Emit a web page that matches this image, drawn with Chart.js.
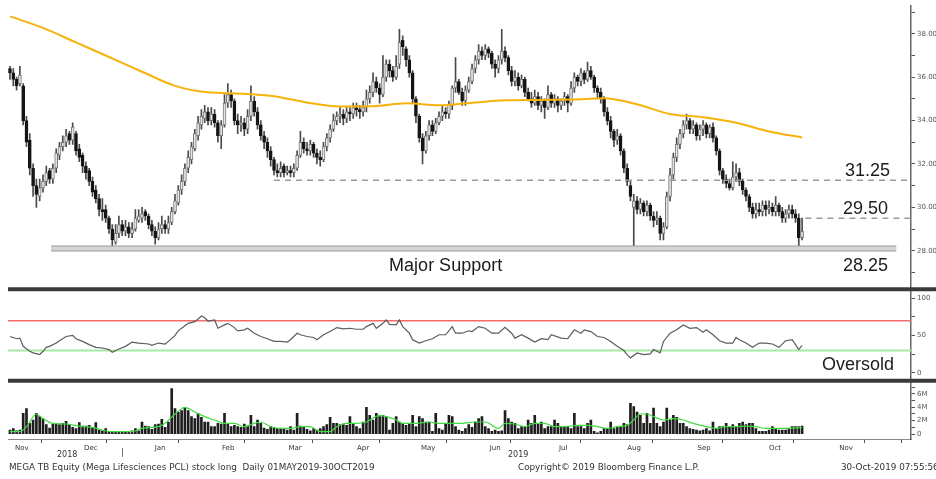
<!DOCTYPE html>
<html>
<head>
<meta charset="utf-8">
<script src="https://cdn.jsdelivr.net/npm/chart.js@4.4.1/dist/chart.umd.min.js"></script>
<style>
  body { margin: 0; background: #fff; }
  #wrap { position: relative; width: 936px; height: 479px; overflow: hidden; }
  .ft { position: absolute; font: 8.8px "DejaVu Sans", Verdana, sans-serif; color: #333; white-space: nowrap; }
  .yr { font-size: 8px; }
</style>
</head>
<body>
<div id="wrap">
  <canvas id="chart" width="936" height="479"></canvas>
  <div class="ft yr" style="left:57px;top:450px">2018</div>
  <div class="ft yr" style="left:121px;top:448px">|</div>
  <div class="ft yr" style="left:508px;top:450px">2019</div>
  <div class="ft" style="left:9px;top:462px">MEGA TB Equity (Mega Lifesciences PCL) stock long&nbsp; Daily 01MAY2019-30OCT2019</div>
  <div class="ft" style="left:518px;top:462px">Copyright© 2019 Bloomberg Finance L.P.</div>
  <div class="ft" style="left:841px;top:462px">30-Oct-2019 07:55:56</div>
</div>
<script>
// daily bars, index 0 = first visible session (Nov 2018)
const opens = [
  36.4,36.2,35.9,35.7,35.6,34.0,33.1,31.8,31.0,30.5,
  30.9,31.2,31.7,31.3,31.8,32.4,32.8,33.0,33.4,33.1,
  33.4,32.7,32.4,31.9,31.7,31.2,30.8,30.4,29.9,29.9,
  29.5,29.0,28.4,28.8,29.2,28.9,29.1,28.8,29.0,29.4,
  29.5,29.8,29.6,29.2,28.9,28.6,29.0,29.2,29.0,29.3,
  29.8,30.2,30.8,31.2,31.8,32.2,32.7,33.3,33.8,34.1,
  34.4,34.0,34.3,33.9,33.3,33.8,34.8,35.2,34.9,34.0,
  33.8,33.9,33.6,34.2,34.9,34.4,33.8,33.3,33.0,32.6,
  32.2,31.7,31.6,31.9,31.6,31.7,31.6,31.8,32.4,33.0,
  32.7,32.6,32.9,32.5,32.3,32.2,32.8,33.2,33.6,34.0,
  34.2,34.3,34.1,34.4,34.3,34.6,34.5,34.4,34.6,35.0,
  35.3,35.8,35.5,35.2,36.0,36.6,36.3,36.0,36.6,37.7,
  37.3,36.8,36.2,35.0,34.2,33.2,32.6,33.3,33.8,33.5,
  33.9,34.2,34.4,34.3,34.7,35.5,35.8,35.3,34.9,35.4,
  35.8,36.4,36.8,37.2,37.0,37.3,37.1,36.6,36.4,36.8,
  37.2,36.9,36.3,35.8,36.0,35.6,35.9,35.3,35.0,34.8,
  35.1,34.7,34.9,34.6,35.2,34.8,35.0,34.7,34.9,35.1,
  34.8,35.5,36.0,35.8,36.2,35.9,36.3,36.0,35.5,35.3,
  35.0,34.4,34.0,33.5,33.1,33.3,32.6,31.8,31.0,30.0,
  30.3,29.9,30.2,29.8,30.1,29.6,29.4,29.5,28.8,29.1,
  30.5,31.5,32.3,32.9,33.4,33.8,34.0,33.6,33.8,33.3,
  33.6,33.8,33.4,33.7,33.2,32.6,31.7,31.3,31.1,30.9,
  31.4,31.6,31.2,30.8,30.5,30.0,29.7,29.9,29.8,30.1,
  29.9,30.0,29.8,30.1,29.8,29.5,29.7,29.9,29.7,29.5,28.6
];
const highs = [
  36.5,36.4,36.0,36.5,35.7,34.2,33.4,32.0,31.3,31.3,
  31.5,31.9,31.8,32.0,32.7,33.0,33.3,33.6,33.5,33.9,
  33.5,32.9,32.5,32.1,31.8,31.4,31.0,30.6,30.4,30.1,
  29.6,29.2,29.2,29.6,29.4,29.4,29.3,29.3,29.9,29.9,
  30.0,29.9,29.7,29.4,29.1,29.3,29.6,29.4,29.6,30.0,
  30.6,31.0,31.5,32.0,32.6,33.0,33.6,34.2,34.5,34.7,
  34.6,34.6,34.5,34.0,34.0,35.2,35.7,35.4,35.0,34.3,
  34.2,34.1,34.5,35.6,35.1,34.6,34.0,33.5,33.2,32.8,
  32.3,32.0,32.1,32.0,31.9,31.9,32.0,32.6,33.5,33.2,
  33.0,33.1,33.0,32.7,32.6,33.0,33.4,33.8,34.3,34.4,
  34.6,34.5,34.6,34.6,34.8,34.8,34.7,34.9,35.4,35.6,
  36.2,36.0,35.7,37.0,36.8,36.8,36.5,37.0,38.2,37.9,
  37.4,37.0,36.3,35.1,34.3,33.4,33.5,34.0,34.0,34.1,
  34.4,34.7,34.6,34.9,35.6,36.9,35.9,35.5,35.6,36.0,
  36.6,37.0,37.5,37.4,37.5,37.4,37.2,36.8,37.0,38.2,
  37.4,37.0,36.5,36.3,36.2,36.1,36.0,35.5,35.3,35.4,
  35.3,35.1,35.0,35.6,35.3,35.2,35.1,35.0,35.3,35.2,
  35.8,36.2,36.1,36.4,36.3,36.7,36.5,36.1,35.6,35.5,
  35.1,34.6,34.2,33.6,33.6,33.4,32.7,32.0,31.2,30.6,
  30.5,30.4,30.3,30.3,30.2,29.8,29.8,29.6,29.3,30.7,
  31.8,32.5,33.2,33.6,34.0,34.3,34.1,34.0,33.9,33.8,
  34.0,33.9,33.8,33.9,33.3,32.7,31.8,31.5,31.3,32.1,
  32.0,31.8,31.3,30.9,30.6,30.2,30.2,30.2,30.3,30.3,
  30.3,30.2,30.5,30.2,30.0,29.9,30.1,30.1,29.9,29.7,29.5
];
const lows = [
  35.9,35.6,35.4,35.6,33.8,32.8,31.5,30.5,30.0,30.3,
  30.7,31.0,31.1,31.1,31.6,32.2,32.6,32.8,32.9,32.9,
  32.4,32.1,31.6,31.3,31.0,30.5,30.2,29.6,29.4,29.3,
  28.8,28.2,28.3,28.6,28.7,28.7,28.6,28.6,28.9,29.3,
  29.3,29.4,29.0,28.7,28.3,28.5,28.8,28.8,28.8,29.2,
  29.7,30.1,30.6,31.0,31.6,32.0,32.6,33.1,33.6,33.9,
  33.8,33.8,33.7,33.0,32.7,33.7,34.6,34.6,33.8,33.4,
  33.5,33.3,33.4,34.0,34.2,33.6,33.1,32.7,32.3,31.9,
  31.5,31.4,31.4,31.4,31.5,31.4,31.4,31.7,32.3,32.5,
  32.4,32.4,32.3,32.0,31.9,32.1,32.6,33.0,33.5,33.8,
  33.9,33.8,33.9,34.0,34.1,34.2,34.1,34.2,34.4,34.8,
  35.1,35.3,34.8,35.1,35.8,36.0,35.8,35.9,36.4,37.0,
  36.5,36.0,34.8,33.9,33.0,32.0,32.5,33.1,33.3,33.4,
  33.8,34.0,34.1,34.1,34.5,35.3,35.2,34.7,34.7,35.3,
  35.7,36.2,36.6,36.8,36.8,36.9,36.4,36.0,36.2,36.6,
  36.7,36.1,35.6,35.6,35.4,35.5,35.1,34.9,34.6,34.7,
  34.5,34.4,34.1,34.5,34.6,34.6,34.4,34.5,34.7,34.4,
  34.7,35.3,35.6,35.6,35.7,35.8,35.9,35.3,35.0,34.8,
  34.2,33.8,33.2,32.8,32.9,32.4,31.6,31.0,30.3,28.2,
  29.7,29.7,29.6,29.6,29.4,29.1,29.2,28.5,28.5,29.0,
  30.3,31.3,32.1,32.7,33.2,33.6,33.4,33.4,33.1,33.1,
  33.3,33.2,33.2,33.0,32.4,31.5,31.1,30.9,30.8,30.8,
  31.2,31.0,30.6,30.3,29.8,29.5,29.5,29.6,29.6,29.6,
  29.7,29.6,29.6,29.6,29.3,29.3,29.5,29.5,29.3,28.2,28.5
];
const closes = [
  36.2,35.9,35.6,36.1,34.0,33.0,31.8,31.0,30.6,30.9,
  31.2,31.6,31.3,31.8,32.5,32.8,33.0,33.3,33.1,33.7,
  32.6,32.3,31.9,31.6,31.2,30.7,30.4,29.9,29.8,29.5,
  29.0,28.5,28.8,29.2,28.9,29.1,28.8,29.0,29.5,29.6,
  29.7,29.6,29.2,28.9,28.6,29.0,29.2,29.0,29.3,29.8,
  30.3,30.8,31.2,31.8,32.3,32.8,33.4,33.9,34.2,34.4,
  34.0,34.3,33.9,33.3,33.8,34.8,35.2,34.9,34.0,33.8,
  33.9,33.6,34.2,34.9,34.4,33.8,33.3,33.0,32.6,32.2,
  31.7,31.6,31.8,31.6,31.7,31.6,31.8,32.4,33.0,32.7,
  32.6,32.9,32.5,32.3,32.2,32.8,33.2,33.6,34.0,34.2,
  34.3,34.1,34.4,34.3,34.6,34.5,34.4,34.6,35.0,35.3,
  35.8,35.5,35.2,36.0,36.6,36.3,36.0,36.5,37.6,37.4,
  36.8,36.2,35.0,34.2,33.2,32.6,33.3,33.8,33.5,33.9,
  34.2,34.4,34.3,34.7,35.5,35.8,35.3,34.9,35.4,35.8,
  36.4,36.8,37.2,37.0,37.3,37.1,36.6,36.4,36.8,37.2,
  36.9,36.3,35.8,36.0,35.6,35.9,35.3,35.0,34.8,35.1,
  34.7,34.9,34.6,35.2,34.8,35.0,34.7,34.9,35.1,34.8,
  35.5,36.0,35.8,36.2,35.9,36.3,36.0,35.5,35.3,35.0,
  34.4,34.0,33.5,33.1,33.3,32.6,31.8,31.2,30.5,30.3,
  29.9,30.2,29.8,30.1,29.6,29.4,29.5,28.8,29.1,30.5,
  31.5,32.3,32.9,33.4,33.8,34.0,33.6,33.8,33.3,33.6,
  33.8,33.4,33.7,33.2,32.6,31.7,31.3,31.1,30.9,31.4,
  31.6,31.2,30.8,30.5,30.0,29.7,29.9,29.8,30.1,29.9,
  30.0,29.8,30.1,29.8,29.5,29.7,29.9,29.7,29.5,28.6,28.9
];
// volume in millions of shares
const volume = [
  0.6,0.8,0.5,0.6,3.1,3.8,1.6,2.1,3.1,2.6,
  2.3,1.4,0.9,1.5,1.5,1.4,1.6,1.9,1.4,1.0,
  0.8,1.7,1.2,1.2,1.3,0.9,1.7,0.6,0.5,0.8,
  0.4,0.3,0.4,0.3,0.4,0.3,0.4,0.5,0.8,0.5,
  1.8,1.2,1.1,0.7,1.4,1.5,2.2,1.0,1.8,6.8,
  3.8,3.3,3.5,4.0,3.5,2.6,2.3,3.1,2.5,1.8,
  1.8,1.1,1.1,1.6,1.5,3.1,1.6,1.1,1.3,1.1,
  1.0,1.5,1.2,2.8,1.1,2.1,1.6,0.9,0.7,1.1,
  1.0,0.8,0.8,0.8,0.6,1.1,0.6,3.1,1.2,1.1,
  0.7,0.5,0.8,0.6,0.8,1.1,1.4,2.5,1.6,1.6,
  1.4,1.4,1.3,2.6,1.6,1.1,0.8,1.8,4.0,2.8,
  2.1,3.1,2.6,2.8,2.6,0.6,1.6,2.6,1.8,1.6,
  1.3,1.6,2.8,1.1,2.6,2.3,1.8,1.8,0.4,3.1,
  0.8,0.6,1.6,2.8,2.6,1.1,0.6,0.4,0.8,1.4,
  1.0,1.8,2.3,2.6,1.1,0.8,0.4,0.6,0.4,0.5,
  3.5,2.3,1.8,1.6,0.8,1.1,1.1,2.1,1.6,2.8,
  1.6,1.8,0.8,1.1,1.1,2.1,1.6,1.1,1.1,1.1,
  0.8,3.1,1.1,1.1,0.8,1.6,2.1,0.4,0.2,0.4,
  0.8,0.8,1.8,0.8,1.1,1.1,1.6,1.4,4.6,4.1,
  3.3,2.8,1.6,3.1,1.6,3.9,1.6,1.1,1.8,3.9,
  2.1,2.8,2.5,1.6,1.6,1.1,0.8,0.7,0.6,0.5,
  0.6,0.8,0.5,1.8,0.8,1.1,1.1,1.6,1.1,1.4,
  1.1,1.6,1.8,1.4,1.6,1.6,0.8,0.4,0.4,0.4,
  0.6,1.1,0.8,0.6,0.6,0.6,0.8,1.1,1.1,1.1,1.2
];

// 200-day moving average, read every 10 sessions
const maAt = [0,10,20,30,40,50,60,70,80,90,100,110,120,130,140,150,160,170,180,190,200,210,220,230,240];
const ma200 = [38.8,38.27,37.6,36.93,36.25,35.6,35.3,35.24,35.12,34.83,34.65,34.66,34.8,34.7,34.82,34.93,34.95,34.97,35.03,34.75,34.3,34.15,33.9,33.5,33.22];

// volume moving average (green)
const volMaAt = [0,3,5,8,10,13,17,22,25,28,31,37,40,45,47,50,53,56,59,62,65,68,71,74,76,79,82,85,88,91,94,97,99,102,105,108,112,114,117,119,123,127,130,134,137,141,144,148,150,153,156,159,162,165,168,172,175,178,181,184,187,189,191,193,195,198,201,204,207,211,214,217,220,223,226,229,232,235,240];
const volMa = [0.35,0.35,1.1,3.0,2.3,1.6,1.5,1.1,1.0,0.6,0.35,0.35,0.85,1.1,1.6,3.0,4.0,3.3,2.6,2.1,1.6,1.6,1.1,1.6,1.8,1.1,0.85,0.85,1.1,1.1,0.35,0.35,1.1,1.6,1.6,1.8,2.8,2.6,2.1,1.6,1.6,1.8,1.6,1.6,1.6,1.8,1.8,0.85,1.6,1.5,1.1,1.6,1.6,1.1,1.1,1.3,1.3,1.1,0.85,1.1,1.3,2.1,3.0,3.0,2.6,2.1,2.3,2.1,1.6,1.1,0.85,1.1,1.1,1.2,1.1,0.85,0.85,0.85,0.95];

// RSI
const rsiAt = [0,2,3,4,6,7,9,10,11,12,14,15,17,19,20,22,24,26,28,30,31,33,35,37,39,42,43,45,47,48,
  50,51,52,54,56,57,58,59,60,62,63,65,66,68,69,71,72,74,76,78,80,82,84,85,87,88,90,92,93,95,
  97,99,101,103,105,107,108,110,111,113,114,115,117,118,119,121,122,124,126,128,130,132,134,135,137,139,
  140,142,144,146,148,150,152,153,155,157,159,161,163,164,167,169,171,173,174,176,178,180,182,184,186,187,188,
  190,192,194,195,197,198,200,202,204,206,208,210,211,213,215,217,219,220,221,223,225,227,229,231,233,235,237,238,239,240];
const rsi = [48.8,45.8,46.6,35.6,29.0,26.8,24.7,29.0,34.3,35.6,40.0,43.1,48.8,50.2,45.8,42.2,37.9,34.3,33.4,31.3,27.7,32.1,35.6,41.3,40.0,38.7,37.0,40.0,38.7,42.2,
  50.2,56.4,59.8,66.4,68.6,72.2,76.2,73.9,69.5,70.9,59.8,64.3,66.4,60.7,56.4,57.7,59.8,53.2,48.8,45.8,42.2,42.2,41.3,44.5,53.2,51.1,48.8,47.5,44.5,51.1,
  55.4,60.7,59.0,59.8,58.5,58.5,62.0,66.4,59.8,66.4,70.9,65.1,64.3,70.9,62.0,53.2,44.5,40.0,43.1,45.8,51.1,51.1,62.0,53.2,53.2,56.4,
  55.4,62.0,59.8,53.2,53.2,61.2,53.2,46.6,51.1,46.6,41.3,45.8,44.5,51.1,46.6,45.8,57.7,53.2,57.7,55.4,48.8,47.5,42.2,35.6,30.0,24.6,20.2,
  26.8,24.6,25.5,31.3,26.8,42.2,53.2,57.7,64.3,59.8,60.7,54.5,57.7,51.1,43.1,40.0,40.0,47.5,44.5,40.0,34.3,40.0,40.0,38.7,34.3,43.1,44.5,37.9,31.3,37.0];
const rsiLevels = [70, 30];

// annotated levels
const resistLevels = [31.25, 29.50];
const resistFrom = [80, 241];
const supportLevel = 28.1;
const supportFrom = 12.5, supportTo = 268.5;

// x axis: month boundaries and month label positions (session units)
const xMin = -0.6, xMax = 273;
const monthStarts = [15.4, 33.9, 56.7, 76.1, 97.0, 116.7, 137.9, 156.4, 178.2, 200.0, 221.2, 242.7, 264.5];
const monthMids = [3.6, 24.5, 45.5, 66.1, 86.4, 107.0, 126.7, 147.0, 167.6, 189.1, 210.3, 231.8, 253.3];
const monthNames = ['Nov','Dec','Jan','Feb','Mar','Apr','May','Jun','Jul','Aug','Sep','Oct','Nov'];

const priceTicks = [27,28,29,30,31,32,33,34,35,36,37,38,39];
const rsiTicks = [0,25,50,75,100];
const volTicks = [0,1,2,3,4,5,6,7];

const wickData = highs.map((h, i) => ({ x: i, y: [lows[i], h] }));
const bodyData = closes.map((c, i) => ({ x: i, y: [opens[i], c] }));
const bodyFill = closes.map((c, i) => c >= opens[i] ? '#e6e6e6' : '#151515');
const bodyEdge = closes.map((c, i) => c >= opens[i] ? '#777' : '#151515');

const axisFont = { family: 'DejaVu Sans', size: 7 };

function rightAxis(min, max, ticks, weight, label) {
  return {
    type: 'linear', position: 'right', stack: 'panels', stackWeight: weight,
    min: min, max: max,
    afterFit: s => { s.width = 25; },
    afterBuildTicks: s => { s.ticks = ticks.map(v => ({ value: v })); },
    ticks: { autoSkip: false, padding: 2, color: '#555', font: axisFont, callback: label },
    grid: { drawOnChartArea: false, tickLength: 4, tickColor: '#555' },
    border: { color: '#666', width: 1.5 }
  };
}

const panelDecor = {
  id: 'panelDecor',
  afterDraw(chart) {
    const { ctx, chartArea, scales } = chart;
    const py = scales.y, ry = scales.rsi, xs = scales.x;
    ctx.save();
    ctx.strokeStyle = '#3a3a3a';
    ctx.lineWidth = 4;
    [py.bottom, ry.bottom].forEach(yy => {
      ctx.beginPath();
      ctx.moveTo(chartArea.left, yy);
      ctx.lineTo(chart.width, yy);
      ctx.stroke();
    });
    ctx.fillStyle = '#1c1c1c';
    ctx.font = '18px "Liberation Sans", Arial, sans-serif';
    ctx.textBaseline = 'alphabetic';
    ctx.textAlign = 'right';
    ctx.fillText('31.25', 890, py.getPixelForValue(31.25) - 4);
    ctx.fillText('29.50', 888, py.getPixelForValue(29.5) - 4);
    ctx.fillText('28.25', 888, py.getPixelForValue(28.25) + 26);
    ctx.fillText('Oversold', 894, ry.getPixelForValue(30) + 19);
    ctx.textAlign = 'center';
    ctx.fillText('Major Support', xs.getPixelForValue(132), py.getPixelForValue(28.25) + 26);
    ctx.restore();
  }
};

new Chart(document.getElementById('chart'), {
  type: 'bar',
  data: {
    datasets: [
      {
        type: 'line', label: '200d MA', yAxisID: 'y', order: 1,
        data: maAt.map((x, k) => ({ x: x, y: ma200[k] })),
        borderColor: '#f5b30c', borderWidth: 2, pointRadius: 0, cubicInterpolationMode: 'monotone'
      },
      ...resistLevels.map((lv, k) => ({
        type: 'line', label: 'level ' + lv, yAxisID: 'y', order: 2,
        data: [{ x: resistFrom[k], y: lv }, { x: xMax, y: lv }],
        borderColor: '#9a9a9a', borderWidth: 1.5, borderDash: [6, 5], pointRadius: 0
      })),
      {
        type: 'line', label: 'support edge', yAxisID: 'y', order: 4,
        data: [{ x: supportFrom, y: supportLevel }, { x: supportTo, y: supportLevel }],
        borderColor: '#9c9c9c', borderWidth: 6, pointRadius: 0
      },
      {
        type: 'line', label: 'support', yAxisID: 'y', order: 3,
        data: [{ x: supportFrom, y: supportLevel }, { x: supportTo, y: supportLevel }],
        borderColor: '#d4d4d4', borderWidth: 4, pointRadius: 0
      },
      {
        label: 'wick', yAxisID: 'y', order: 6, grouped: false,
        data: wickData, backgroundColor: '#4a4a4a', barThickness: 1
      },
      {
        label: 'body', yAxisID: 'y', order: 5, grouped: false,
        data: bodyData, backgroundColor: bodyFill, borderColor: bodyEdge, borderWidth: 1,
        borderSkipped: false, barThickness: 3, minBarLength: 1
      },
      ...rsiLevels.map((lv, k) => ({
        type: 'line', label: 'rsi ' + lv, yAxisID: 'rsi', order: 3,
        data: [{ x: xMin, y: lv }, { x: xMax, y: lv }],
        borderColor: k === 0 ? '#f26a6a' : '#a6eaa6', borderWidth: k === 0 ? 1.5 : 2, pointRadius: 0
      })),
      {
        type: 'line', label: 'RSI', yAxisID: 'rsi', order: 1,
        data: rsiAt.map((x, k) => ({ x: x, y: rsi[k] })),
        borderColor: '#5c5c5c', borderWidth: 1.2, pointRadius: 0
      },
      {
        label: 'volume', yAxisID: 'vol', order: 5, grouped: false,
        data: volume.map((v, i) => ({ x: i, y: v })),
        backgroundColor: '#1e1e1e', barThickness: 2
      },
      {
        type: 'line', label: 'volume MA', yAxisID: 'vol', order: 1,
        data: volMaAt.map((x, k) => ({ x: x, y: volMa[k] })),
        borderColor: '#3fdc3f', borderWidth: 1.2, pointRadius: 0, cubicInterpolationMode: 'monotone'
      }
    ]
  },
  options: {
    responsive: false,
    animation: false,
    devicePixelRatio: 1,
    layout: { padding: { left: 8, right: 0, top: 0, bottom: 26 } },
    plugins: { legend: { display: false }, tooltip: { enabled: false } },
    scales: {
      x: {
        type: 'linear', position: 'bottom', min: xMin, max: xMax, offset: false,
        afterFit: s => { s.height = 14; },
        afterBuildTicks: s => {
          const t = monthStarts.map(v => ({ value: v }))
            .concat(monthMids.map((v, k) => ({ value: v, name: monthNames[k] })));
          t.sort((a, b) => a.value - b.value);
          s.ticks = t;
        },
        ticks: {
          autoSkip: false, maxRotation: 0, padding: 1, color: '#333', font: axisFont,
          callback: (v, i, t) => t[i].name || ''
        },
        grid: {
          drawOnChartArea: false, tickLength: 4,
          tickColor: c => (c.tick && c.tick.name) ? 'rgba(0,0,0,0)' : '#555'
        },
        border: { color: '#888', width: 1 }
      },
      y: rightAxis(26.23, 39.27, priceTicks, 287, v => v % 2 === 0 ? v.toFixed(2) : ''),
      rsi: rightAxis(-10.6, 112.2, rsiTicks, 93, v => v % 50 === 0 ? String(v) : ''),
      vol: rightAxis(-0.74, 7.96, volTicks, 59, v => v % 2 === 0 ? (v === 0 ? '0' : v + 'M') : '')
    }
  },
  plugins: [panelDecor]
});
</script>
</body>
</html>
